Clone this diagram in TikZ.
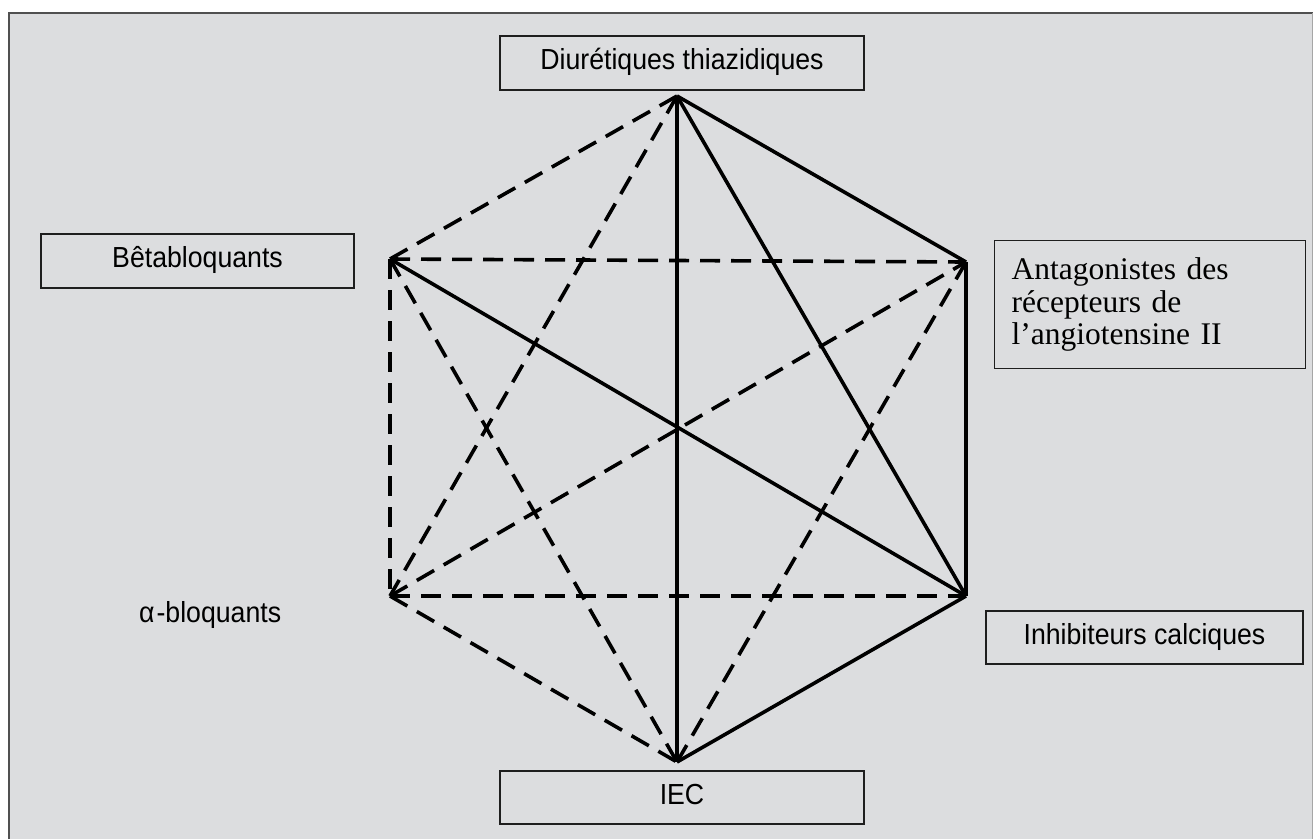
\documentclass[tikz,border=0pt]{standalone}
\usepackage{fontspec}
\newfontfamily\lblfont[FakeStretch=0.92]{Liberation Sans}
\newfontfamily\serfont{Liberation Serif}
\definecolor{bggray}{RGB}{220,221,223}
\definecolor{edgegray}{RGB}{80,80,80}
\definecolor{boxline}{RGB}{30,30,30}
\tikzset{
  lbox/.style={draw=boxline, line width=1.2pt, inner sep=0pt, text height=13pt, text depth=0pt,
    font=\lblfont\fontsize{29}{33}\selectfont},
  solidedge/.style={line width=3.6pt, black},
  dashedge/.style={line width=3.6pt, black, dash pattern=on 20pt off 11pt},
}
\begin{document}
\begin{tikzpicture}[x=1pt,y=-1pt]
\useasboundingbox (0,0) rectangle (1313,839);
\fill[bggray] (9,13) rectangle (1313,839);
\draw[edgegray, line width=1.8pt] (9,839) -- (9,13) -- (1313,13);
\draw[gray!70, line width=1pt] (1312,13) -- (1312,839);

% boxes
\node[lbox, minimum width=364pt, minimum height=54pt] (diu) at (682,63) {Diurétiques thiazidiques};
\node[lbox, minimum width=313pt, minimum height=54pt] (beta) at (197.5,261) {Bêtabloquants};
\node[lbox, minimum width=317pt, minimum height=53pt] (inh) at (1144.5,637.5) {Inhibiteurs calciques};
\node[lbox, minimum width=364pt, minimum height=53pt] (iec) at (682,797.5) {IEC};
\node[draw=boxline, line width=1.2pt, anchor=north west, minimum width=311pt, minimum height=128pt,
  inner xsep=17pt, inner ysep=0pt, text width=277pt, align=left,
  font=\serfont\fontsize{31.5}{32.5}\selectfont] (ara) at (994,240)
  {Antagonistes des\\récepteurs de\\l’angiotensine II};
\node[anchor=base west, inner sep=0pt, font=\lblfont\fontsize{29}{33}\selectfont] (alpha) at (139,622) {α\kern2pt-bloquants};

% hexagon vertices
\coordinate (T) at (677,96);
\coordinate (UR) at (966,262);
\coordinate (LR) at (966,596);
\coordinate (B) at (677,762);
\coordinate (LL) at (390,596);
\coordinate (UL) at (390,259);

% dashed edges
\draw[dashedge] (T) -- (UL);
\draw[dashedge] (UL) -- (UR);
\draw[dashedge] (UL) -- (LL);
\draw[dashedge] (UL) -- (B);
\draw[dashedge] (T) -- (LL);
\draw[dashedge] (LL) -- (UR);
\draw[dashedge] (LL) -- (LR);
\draw[dashedge] (LL) -- (B);
\draw[dashedge] (UR) -- (B);

% solid edges
\draw[solidedge] (T) -- (UR);
\draw[solidedge] (T) -- (B);
\draw[solidedge] (T) -- (LR);
\draw[solidedge] (UR) -- (LR);
\draw[solidedge] (UL) -- (LR);
\draw[solidedge] (LR) -- (B);
\end{tikzpicture}
\end{document}
